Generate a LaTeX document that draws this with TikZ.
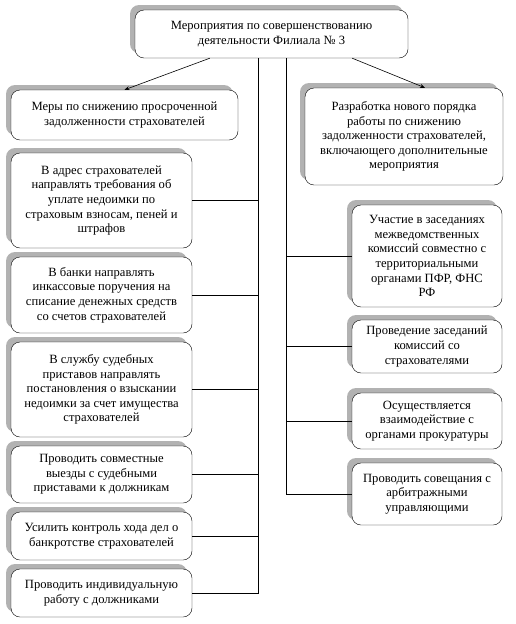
\documentclass[tikz,border=0pt]{standalone}
\usepackage{fontspec}
\setmainfont{Liberation Serif}
\usetikzlibrary{shadows,arrows.meta}

\begin{document}
\begin{tikzpicture}[x=1pt, y=-1pt,
  box/.style={draw, rounded corners=9pt, fill=white, align=center,
    font=\fontsize{12.6}{14.6}\selectfont, inner sep=2pt,
    drop shadow={shadow xshift=-5pt, shadow yshift=5pt, fill=gray!60, opacity=1}},
  link/.style={-, semithick},
  arr/.style={-{Stealth[length=5pt,width=4pt]}, semithick}]

\useasboundingbox (0,0) rectangle (515,624);

\node[box, minimum width=273pt, minimum height=48pt] (top) at (271.5,34) {Мероприятия по совершенствованию\\деятельности Филиала № 3};

% left column
\node[box, minimum width=227pt, minimum height=50pt] (l1) at (124.5,115) {Меры по снижению просроченной\\задолженности страхователей};
\node[box, minimum width=181pt, minimum height=95pt] (l2) at (101.5,200.5) {В адрес страхователей\\направлять требования об\\уплате недоимки по\\страховым взносам, пеней и\\штрафов};
\node[box, minimum width=181pt, minimum height=76pt] (l3) at (101.5,295) {В банки направлять\\инкассовые поручения на\\списание денежных средств\\со счетов страхователей};
\node[box, minimum width=181pt, minimum height=95pt] (l4) at (101.5,389.5) {В службу судебных\\приставов направлять\\постановления о взыскании\\недоимки за счет имущества\\страхователей};
\node[box, minimum width=181pt, minimum height=57pt] (l5) at (101.5,474.5) {Проводить совместные\\выезды с судебными\\приставами к должникам};
\node[box, minimum width=181pt, minimum height=48pt] (l6) at (101.5,536) {Усилить контроль хода дел о\\банкротстве страхователей};
\node[box, minimum width=181pt, minimum height=48pt] (l7) at (101.5,593) {Проводить индивидуальную\\работу с должниками};

% right column
\node[box, minimum width=198pt, minimum height=97pt] (r1) at (404,136.5) {Разработка нового порядка\\работы по снижению\\задолженности страхователей,\\включающего дополнительные\\мероприятия};
\node[box, minimum width=150pt, minimum height=102pt] (r2) at (427,256) {Участие в заседаниях\\межведомственных\\комиссий совместно с\\территориальными\\органами ПФР, ФНС\\РФ};
\node[box, minimum width=150pt, minimum height=53pt] (r3) at (427,346.5) {Проведение заседаний\\комиссий со\\страхователями};
\node[box, minimum width=150pt, minimum height=56pt] (r4) at (427,421) {Осуществляется\\взаимодействие с\\органами прокуратуры};
\node[box, minimum width=150pt, minimum height=62pt] (r5) at (427,494) {Проводить совещания с\\арбитражными\\управляющими};

\coordinate (lbus) at (258,58);
\coordinate (rbus) at (286,58);

\draw[arr] ([xshift=75pt]top.south west) to (l1.north);
\draw[arr] ([xshift=-56pt]top.south east) to ([xshift=21pt]r1.north);

\draw[link] (lbus) |- (l7.east);
\foreach \n in {l2,l3,l4,l5,l6}
  \draw[link] (\n.east) -- (\n.east -| lbus);

\draw[link] (rbus) |- (r5.west);
\foreach \n in {r2,r3,r4}
  \draw[link] (\n.west) -- (\n.west -| rbus);

\end{tikzpicture}
\end{document}
